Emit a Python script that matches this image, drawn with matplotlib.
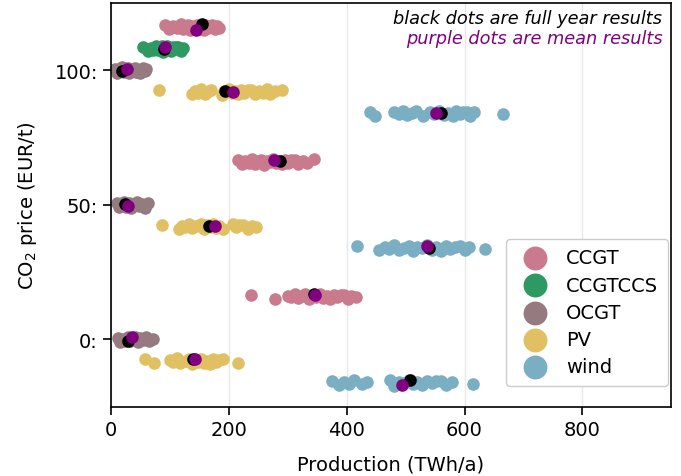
import matplotlib
matplotlib.use("Agg")
import matplotlib.pyplot as plt

# CO2 price levels and technologies
co2_prices = [0, 50, 100]
techs = ["CCGT", "CCGTCCS", "OCGT", "PV", "wind"]
tech_colors = {"CCGT": "#c97b8d", "CCGTCCS": "#2e9963", "OCGT": "#957b80",
               "PV": "#e0c062", "wind": "#7aaec3"}
row_offset = {"CCGT": 16, "CCGTCCS": 8, "OCGT": 0, "PV": -8, "wind": -16}

# production per sample period (TWh/a)
prod_100 = {
    "CCGT": [91, 98, 105, 112, 118, 122, 126, 130, 134, 138, 142, 146, 150, 153,
             157, 160, 164, 168, 172, 176, 180, 184],
    "CCGTCCS": [55, 62, 68, 72, 76, 80, 83, 86, 88, 90, 93, 95, 98, 100, 102,
                105, 108, 111, 114, 118, 122],
    "OCGT": [7, 10, 13, 16, 19, 22, 25, 28, 31, 34, 37, 40, 43, 46, 50, 54, 58, 60],
    "PV": [81, 137, 142, 147, 152, 160, 166, 170, 188, 192, 196, 200, 205, 210,
           215, 220, 226, 232, 238, 245, 252, 258, 264, 270, 278, 291],
    "wind": [440, 448, 480, 488, 495, 502, 510, 518, 530, 542, 548, 556, 565, 572,
             580, 586, 592, 598, 604, 610, 616, 665],
}
prod_50 = {
    "CCGT": [215, 222, 228, 234, 240, 245, 250, 255, 260, 265, 270, 275, 280, 285,
             290, 295, 300, 306, 312, 318, 325, 333, 345],
    "CCGTCCS": [],
    "OCGT": [10, 13, 16, 19, 22, 25, 28, 31, 34, 37, 40, 44, 48, 53, 58, 63],
    "PV": [86, 115, 120, 126, 132, 138, 145, 152, 158, 163, 168, 173, 178, 184,
           190, 207, 212, 218, 224, 232, 240, 246],
    "wind": [418, 455, 465, 472, 480, 488, 497, 505, 512, 520, 528, 536, 545, 552,
             560, 568, 576, 584, 592, 600, 608, 635],
}
prod_0 = {
    "CCGT": [237, 278, 300, 306, 312, 318, 324, 330, 336, 342, 348, 354, 360, 366,
             372, 378, 384, 390, 396, 402, 408, 415],
    "CCGTCCS": [],
    "OCGT": [12, 16, 20, 24, 28, 32, 36, 40, 45, 50, 55, 60, 65, 71],
    "PV": [58, 73, 100, 105, 112, 117, 128, 133, 138, 143, 148, 153, 158, 163,
           168, 173, 178, 184, 190, 215],
    "wind": [375, 387, 395, 404, 412, 426, 434, 474, 480, 489, 498, 505, 512, 520,
             528, 536, 544, 552, 560, 568, 578, 614],
}
production = {0: prod_0, 50: prod_50, 100: prod_100}

# full year results (black) and mean results (purple): (x, y)
full_year = {
    100: {"CCGT": (155, 117), "CCGTCCS": (90, 108), "OCGT": (19, 99.8),
          "PV": (194, 92.3), "wind": (560, 84.2)},
    50: {"CCGT": (287, 66.3), "OCGT": (24, 50.2), "PV": (167, 42.2),
         "wind": (540, 34)},
    0: {"CCGT": (345, 16.8), "OCGT": (28, -0.6), "PV": (139, -7.4),
        "wind": (508, -15)},
}
mean_res = {
    100: {"CCGT": (145, 115), "CCGTCCS": (91, 108.5), "OCGT": (27, 100.3),
          "PV": (207, 92), "wind": (551, 84.2)},
    50: {"CCGT": (277, 66.8), "OCGT": (29, 49.5), "PV": (176, 42),
         "wind": (536, 34.6)},
    0: {"CCGT": (346, 16.6), "OCGT": (36, 0.8), "PV": (143, -7.2),
        "wind": (494, -16.9)},
}

# small vertical scatter of the points within a row
jitter = [0.6, -0.9, 0.3, -0.4, 1.0, -0.7, 0.1, 0.8, -1.1, 0.4, -0.2, 0.9,
          -0.6, 0.2, -1.0, 0.7, -0.3, 0.5]

fig, ax = plt.subplots(figsize=(6.81, 4.77), dpi=100)
fig.subplots_adjust(left=0.163, right=0.985, top=0.992, bottom=0.145)

for price in co2_prices:
    for tech in techs:
        xs = production[price][tech]
        ys = [price + row_offset[tech] + jitter[i % len(jitter)] for i in range(len(xs))]
        label = tech if price == 100 else None
        ax.scatter(xs, ys, s=82, color=tech_colors[tech], linewidths=0,
                   label=label, zorder=2)

for price in co2_prices:
    for tech, (x, y) in full_year[price].items():
        ax.scatter([x], [y], s=82, color="black", linewidths=0, zorder=3)
    for tech, (x, y) in mean_res[price].items():
        ax.scatter([x], [y], s=82, color="purple", linewidths=0, zorder=4)

ax.set_xlim(0, 950)
ax.set_ylim(-25, 125)
ax.set_xticks([0, 200, 400, 600, 800])
ax.set_yticks(co2_prices)
ax.set_yticklabels([f"{p}:" for p in co2_prices])
ax.tick_params(labelsize=14, length=6, width=1.2)
ax.grid(axis="x", color="#e8e8e8", linewidth=1)
ax.set_axisbelow(True)
for sp in ax.spines.values():
    sp.set_linewidth(1.2)

ax.set_xlabel("Production (TWh/a)", fontsize=14, labelpad=11)
ax.set_ylabel("CO$_2$ price (EUR/t)", fontsize=14, labelpad=11)

ax.text(0.985, 0.985, "black dots are full year results", transform=ax.transAxes,
        ha="right", va="top", style="italic", fontsize=12.8, color="black")
ax.text(0.985, 0.935, "purple dots are mean results", transform=ax.transAxes,
        ha="right", va="top", style="italic", fontsize=12.8, color="purple")

leg = ax.legend(loc="lower right", bbox_to_anchor=(1.012, 0.028), fontsize=14,
                markerscale=1.9, handletextpad=0.6, borderpad=0.5,
                labelspacing=0.42, fancybox=True, framealpha=1,
                edgecolor="#cccccc")

fig.savefig("out.png", dpi=100)
